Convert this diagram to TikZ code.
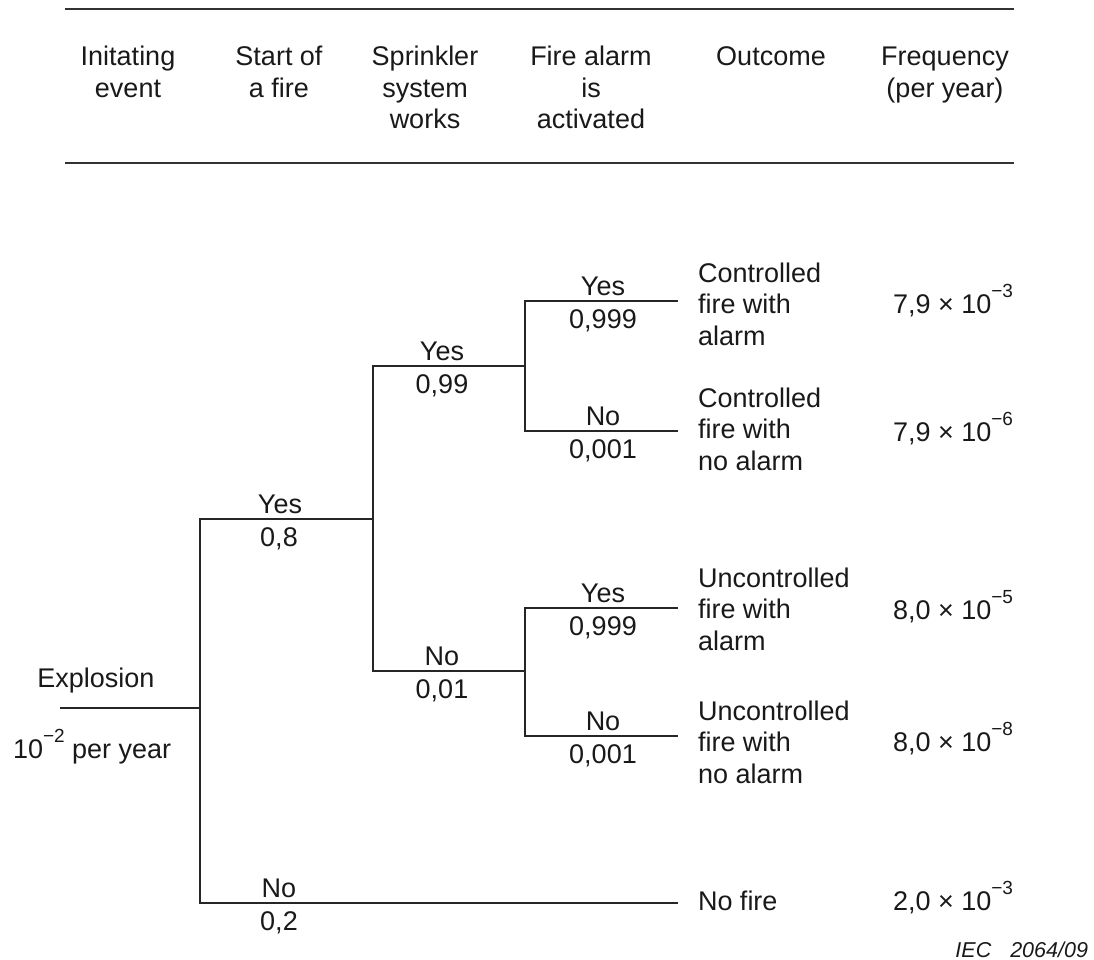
\documentclass[tikz,border=0pt]{standalone}
\usepackage{fontspec}
\setmainfont{Liberation Sans}
\newcommand\mlc[1]{\begin{tabular}[t]{@{}c@{}}#1\end{tabular}}
\newcommand\mll[1]{\begin{tabular}[t]{@{}l@{}}#1\end{tabular}}
\newcommand\sexp[1]{\raisebox{16pt}{\fontsize{19}{19}\selectfont #1}}
\begin{document}
\begin{tikzpicture}[x=1pt,y=-1pt,
  every node/.style={font=\fontsize{27}{31.5}\selectfont, inner sep=0pt, outer sep=0pt, text=black!90},
  rule/.style={line width=2pt, draw=black!80},
  branch/.style={line width=2pt, draw=black!85, line join=miter},
  lbl/.style={anchor=base},
  hdr/.style={anchor=base},
  outc/.style={anchor=base west},
  freq/.style={anchor=base west},
]
\useasboundingbox (0,0) rectangle (1094,960);
% rules
\coordinate (tl) at (65,9);  \coordinate (tr) at (1014,9);
\coordinate (bl) at (65,163); \coordinate (br) at (1014,163);
\draw[rule] (tl) -- (tr);
\draw[rule] (bl) -- (br);
% headers
\node[hdr] (h1) at (128,66) {\mlc{Initating\\event}};
\node[hdr] (h2) at (279,66) {\mlc{Start of\\a fire}};
\node[hdr] (h3) at (425,66) {\mlc{Sprinkler\\system\\works}};
\node[hdr] (h4) at (591,66) {\mlc{Fire alarm\\is\\activated}};
\node[hdr] (h5) at (771,66) {\mlc{Outcome}};
\node[hdr] (h6) at (945,66) {\mlc{Frequency\\(per year)}};
% tree coordinates
\coordinate (start) at (60,708);
\coordinate (j1) at (200,708);
\coordinate (j1y) at (200,519); \coordinate (j2) at (373,519);
\coordinate (j1n) at (200,903); \coordinate (nf) at (678,903);
\coordinate (j2y) at (373,366); \coordinate (j3) at (525,366);
\coordinate (j2n) at (373,671); \coordinate (j4) at (525,671);
\coordinate (j3y) at (525,301); \coordinate (e1) at (678,301);
\coordinate (j3n) at (525,431); \coordinate (e2) at (678,431);
\coordinate (j4y) at (525,608); \coordinate (e3) at (678,608);
\coordinate (j4n) at (525,736); \coordinate (e4) at (678,736);
\draw[branch] (start) -- (j1);
\draw[branch] (j2) -- (j1y) -- (j1n) -- (nf);
\draw[branch] (j3) -- (j2y) -- (j2n) -- (j4);
\draw[branch] (e1) -- (j3y) -- (j3n) -- (e2);
\draw[branch] (e3) -- (j4y) -- (j4n) -- (e4);
% initiating event
\node[lbl] (expl) at (96,687) {Explosion};
\node[anchor=base west] (rate) at (13,758) {10\sexp{−2} per year};
% branch labels
\node[lbl] (y1) at (280,513) {Yes};  \node[lbl] (p1) at (279,546) {0,8};
\node[lbl] (n1) at (279,897) {No};   \node[lbl] (q1) at (279,930) {0,2};
\node[lbl] (y2) at (442,360) {Yes};  \node[lbl] (p2) at (442,393) {0,99};
\node[lbl] (n2) at (442,665) {No};   \node[lbl] (q2) at (442,698) {0,01};
\node[lbl] (y3) at (603,295) {Yes};  \node[lbl] (p3) at (603,328) {0,999};
\node[lbl] (n3) at (603,425) {No};   \node[lbl] (q3) at (603,458) {0,001};
\node[lbl] (y4) at (603,602) {Yes};  \node[lbl] (p4) at (603,635) {0,999};
\node[lbl] (n4) at (603,730) {No};   \node[lbl] (q4) at (603,763) {0,001};
% outcomes
\node[outc] (o1) at (698,282) {\mll{Controlled\\fire with\\alarm}};
\node[outc] (o2) at (698,407) {\mll{Controlled\\fire with\\no alarm}};
\node[outc] (o3) at (698,587) {\mll{Uncontrolled\\fire with\\alarm}};
\node[outc] (o4) at (698,720) {\mll{Uncontrolled\\fire with\\no alarm}};
\node[outc] (o5) at (698,910) {No fire};
% frequencies
\node[freq] (f1) at (893,313) {7,9 × 10\sexp{−3}};
\node[freq] (f2) at (893,441) {7,9 × 10\sexp{−6}};
\node[freq] (f3) at (893,619) {8,0 × 10\sexp{−5}};
\node[freq] (f4) at (893,751) {8,0 × 10\sexp{−8}};
\node[freq] (f5) at (893,910) {2,0 × 10\sexp{−3}};
% figure id
\node[anchor=base east, font=\fontsize{21.5}{21.5}\selectfont\itshape] (iec) at (1088,957) {IEC\hspace{19pt}2064/09};
\end{tikzpicture}
\end{document}
